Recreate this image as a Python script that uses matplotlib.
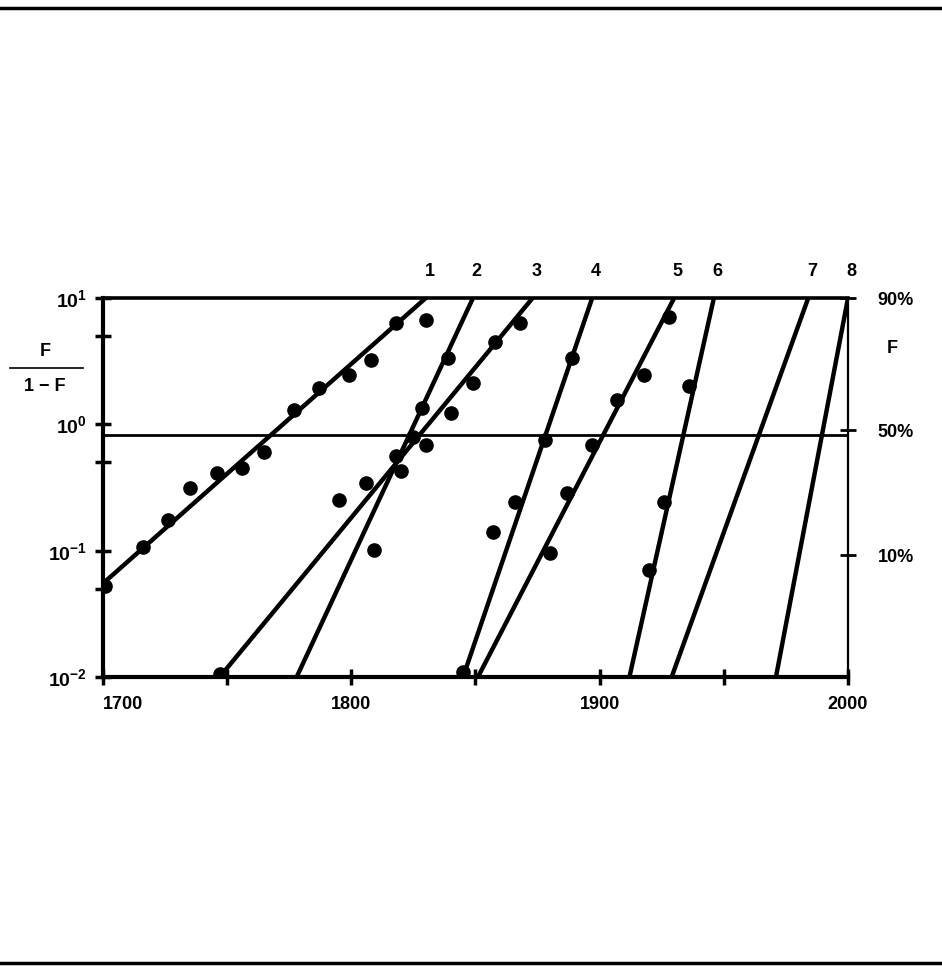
import matplotlib
matplotlib.use("Agg")
import matplotlib.pyplot as plt
from matplotlib.lines import Line2D
import matplotlib.transforms as mtransforms

plt.rcParams['font.family'] = ['Liberation Sans', 'DejaVu Sans']
plt.rcParams['font.weight'] = 'bold'
plt.rcParams['mathtext.fontset'] = 'custom'
plt.rcParams['mathtext.rm'] = 'Liberation Sans:bold'
plt.rcParams['mathtext.bf'] = 'Liberation Sans:bold'
plt.rcParams['mathtext.default'] = 'bf'

# --- Fitted substitution lines: start and end points (year, F/(1-F)) ---
line_names = ['1', '2', '3', '4', '5', '6', '7', '8']
line_x0 = [1700, 1778, 1747, 1845, 1851, 1912, 1929, 1971]
line_y0 = [0.055, 0.01, 0.01, 0.01, 0.01, 0.01, 0.01, 0.01]
line_x1 = [1830, 1849, 1873, 1897, 1930, 1946, 1984, 2000]
line_y1 = [10, 10, 10, 10, 10, 10, 10, 10]

# --- Observed points for each series ---
pts1_x = [1701, 1716, 1726, 1735, 1746, 1756, 1765, 1777, 1787, 1799, 1808, 1818, 1830]
pts1_y = [0.053, 0.107, 0.175, 0.313, 0.411, 0.451, 0.604, 1.30, 1.94, 2.46, 3.23, 6.34, 6.70]
pts2_x = [1795, 1806, 1809, 1818, 1820, 1825, 1828.5, 1839]
pts2_y = [0.252, 0.343, 0.101, 0.56, 0.43, 0.79, 1.35, 3.35]
pts3_x = [1747, 1830, 1840, 1849, 1858, 1868]
pts3_y = [0.0105, 0.686, 1.23, 2.12, 4.48, 6.34]
pts4_x = [1845, 1857, 1866, 1878, 1889]
pts4_y = [0.0109, 0.140, 0.243, 0.751, 3.35]
pts5_x = [1880, 1887, 1897, 1907, 1918, 1928]
pts5_y = [0.0957, 0.286, 0.686, 1.56, 2.46, 7.07]
pts6_x = [1920, 1926, 1936]
pts6_y = [0.0702, 0.243, 2.01]

# Axis ticks
xticks = [1700, 1750, 1800, 1850, 1900, 1950, 2000]
xticklabels = ['1700', '', '1800', '', '1900', '', '2000']
yticks = [0.01, 0.05, 0.1, 0.5, 1, 5, 10]
yticklabels = ['10$^{-2}$', '', '10$^{-1}$', '', '10$^{0}$', '', '10$^{1}$']
half_line = 0.82
right_ticks = [10, 0.9, 0.092]
right_labels = ['90%', '50%', '10%']

fig = plt.figure(figsize=(9.42, 9.72), dpi=100)
ax = fig.add_axes([0.1093, 0.3035, 0.7909, 0.3899])

# Lines
for x0, y0, x1, y1 in zip(line_x0, line_y0, line_x1, line_y1):
    ax.plot([x0, x1], [y0, y1], color='black', lw=3.2, solid_capstyle='round', zorder=3)

# Points
for px, py in [(pts1_x, pts1_y), (pts2_x, pts2_y), (pts3_x, pts3_y),
               (pts4_x, pts4_y), (pts5_x, pts5_y), (pts6_x, pts6_y)]:
    ax.plot(px, py, 'o', color='black', ms=9.5, zorder=4)

# 50% reference line
ax.axhline(half_line, color='black', lw=2.0, zorder=2)

ax.set_yscale('log')
ax.set_xlim(1700, 2000)
ax.set_ylim(0.01, 10)
ax.set_xticks(xticks)
ax.set_xticklabels(xticklabels, fontsize=13, fontweight='bold')
ax.get_xticklabels()[0].set_ha('left')
ax.set_yticks(yticks)
ax.set_yticklabels(yticklabels, fontsize=14)
ax.minorticks_off()
ax.tick_params(axis='both', direction='inout', length=11, width=2.5, color='black')
ax.tick_params(axis='y', pad=6)
ax.tick_params(axis='x', pad=8)

for side in ['left', 'bottom']:
    ax.spines[side].set_linewidth(3.0)
ax.spines['top'].set_linewidth(2.6)
ax.spines['right'].set_visible(False)

# Right axis with percentages
ax2 = ax.twinx()
ax2.set_yscale('log')
ax2.set_ylim(0.01, 10)
ax2.set_yticks(right_ticks)
ax2.set_yticklabels(right_labels, fontsize=13, fontweight='bold')
ax2.minorticks_off()
ax2.tick_params(axis='y', direction='inout', length=11, width=2.0, pad=16)
for side in ['left', 'top', 'bottom']:
    ax2.spines[side].set_visible(False)
ax2.spines['right'].set_linewidth(1.6)

trans = mtransforms.blended_transform_factory(ax.transAxes, ax.transData)
ax.text(1.059, 4.0, 'F', transform=trans, ha='center', va='center', fontsize=13, fontweight='bold')

# Curve numbers above the top axis
for name, xt in zip(line_names, line_x1):
    ax.text(xt + 1.5, 1.069, name, transform=ax.get_xaxis_transform(),
            ha='center', va='center', fontsize=13, fontweight='bold')

# Left label F / (1-F)
fig.text(0.048, 0.638, 'F', ha='center', va='center', fontsize=13, fontweight='bold')
fig.add_artist(Line2D([0.011, 0.088], [0.621, 0.621], color='black', lw=1.2))
fig.text(0.048, 0.602, '1 \u2212 F', ha='center', va='center', fontsize=13, fontweight='bold')

# Page rules at top and bottom
fig.add_artist(Line2D([0, 1], [0.9918, 0.9918], color='black', lw=2.5))
fig.add_artist(Line2D([0, 1], [0.0093, 0.0093], color='black', lw=2.5))

fig.savefig('out.png', dpi=100, facecolor='white')
